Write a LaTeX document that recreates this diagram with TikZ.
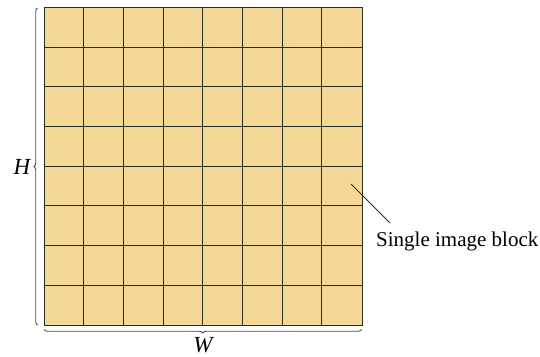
\documentclass[tikz,border=0pt]{standalone}
\usepackage{fontspec}
\setmainfont{Liberation Serif}
\usetikzlibrary{decorations.pathreplacing}
\definecolor{cellfill}{HTML}{F5D895}
\definecolor{gridcol}{HTML}{26301F}
\definecolor{bracecol}{HTML}{4A4A55}
\tikzset{
  gridline/.style={draw=gridcol, line width=1pt},
  bracestyle/.style={draw=bracecol, line width=0.9pt, decorate, decoration={brace, amplitude=3.5pt}},
  lbl/.style={font=\fontsize{21}{25}\selectfont, inner sep=0pt},
  dimlbl/.style={font=\fontsize{23}{27}\selectfont\itshape, inner sep=0pt},
}
\begin{document}
\begin{tikzpicture}[x=1pt,y=-1pt]
\useasboundingbox (0,0) rectangle (540,356);
\node[fill=cellfill, minimum width=317.6pt, minimum height=317.6pt, inner sep=0pt, anchor=north west] (grid) at (44,7.4) {};
\foreach \i in {1,...,7} {
  \pgfmathsetmacro{\p}{44+\i*39.7}
  \pgfmathsetmacro{\q}{7.4+\i*39.7}
  \draw[gridline] (\p,7.4) -- (\p,325);
  \draw[gridline] (44,\q) -- (361.6,\q);
}
\draw[gridline] (grid.north west) rectangle (grid.south east);
\coordinate (lb1) at (37.5,325);
\coordinate (lb2) at (37.5,8);
\draw[bracestyle] (lb1) -- (lb2);
\coordinate (bb1) at (361.6,329.5);
\coordinate (bb2) at (44,329.5);
\draw[bracestyle] (bb1) -- (bb2);
\node[dimlbl] (H) at (22,167) {H};
\node[dimlbl] (W) at (203,345) {W};
\node[lbl, anchor=base west] (sib) at (376,246) {Single image block};
\coordinate (blk) at (351,184);
\coordinate (lend) at (390,223);
\draw[draw=gridcol, line width=0.9pt] (blk) -- (lend);
\end{tikzpicture}
\end{document}
